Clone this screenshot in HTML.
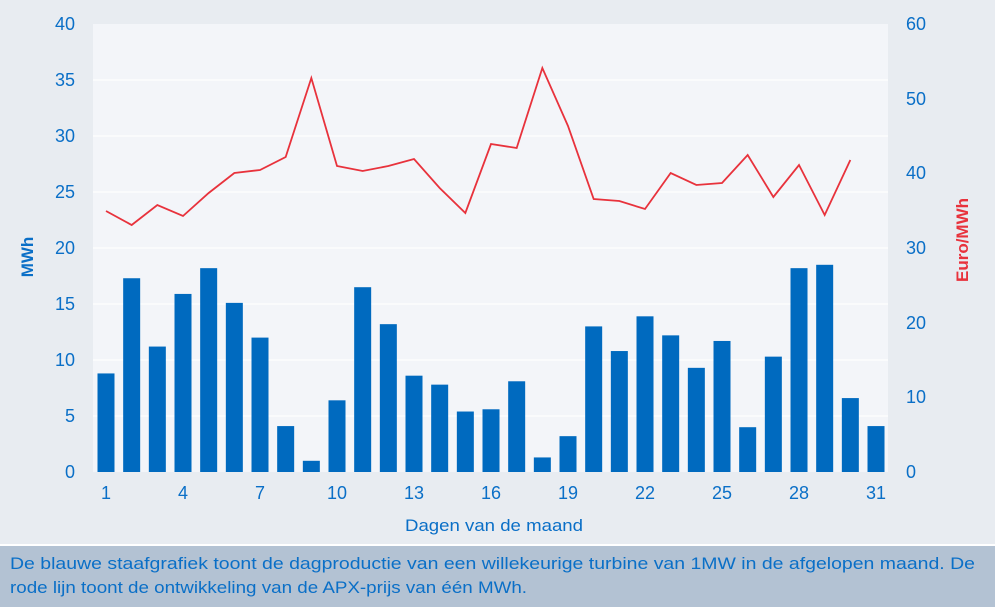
<!DOCTYPE html>
<html><head><meta charset="utf-8"><style>
body{margin:0;background:#e8ecf1;}
svg{display:block;font-family:"Liberation Sans",sans-serif;}
</style></head><body>
<svg width="995" height="607" viewBox="0 0 995 607">
<rect width="995" height="607" fill="#e8ecf1"/>
<rect x="93" y="24" width="795" height="448" fill="#f3f5f9"/>
<g stroke="#ffffff" stroke-width="1.2">
<line x1="93" x2="888" y1="80" y2="80"/><line x1="93" x2="888" y1="136" y2="136"/>
<line x1="93" x2="888" y1="192" y2="192"/><line x1="93" x2="888" y1="248" y2="248"/>
<line x1="93" x2="888" y1="304" y2="304"/><line x1="93" x2="888" y1="360" y2="360"/>
<line x1="93" x2="888" y1="416" y2="416"/>
</g>
<g id="bars" fill="#006abf"></g>
<polyline id="line" fill="none" stroke="#e8323c" stroke-width="1.8" points=""/>
<g fill="#0a6fc7" font-size="18" text-anchor="end">
<text x="75" y="30">40</text><text x="75" y="86">35</text><text x="75" y="142">30</text>
<text x="75" y="198">25</text><text x="75" y="254">20</text><text x="75" y="310">15</text>
<text x="75" y="366">10</text><text x="75" y="422">5</text><text x="75" y="478">0</text>
</g>
<g fill="#0a6fc7" font-size="18" text-anchor="start">
<text x="906" y="30">60</text><text x="906" y="105">50</text><text x="906" y="179">40</text>
<text x="906" y="254">30</text><text x="906" y="329">20</text><text x="906" y="403">10</text>
<text x="906" y="478">0</text>
</g>
<g fill="#0a6fc7" font-size="18" text-anchor="middle">
<text x="106" y="499">1</text><text x="183" y="499">4</text><text x="260" y="499">7</text>
<text x="337" y="499">10</text><text x="414" y="499">13</text><text x="491" y="499">16</text>
<text x="568" y="499">19</text><text x="645" y="499">22</text><text x="722" y="499">25</text>
<text x="799" y="499">28</text><text x="876" y="499">31</text>
</g>
<text x="405" y="531" fill="#0a6fc7" font-size="17" textLength="178" lengthAdjust="spacingAndGlyphs">Dagen van de maand</text>
<text transform="translate(33,257) rotate(-90)" fill="#0a6fc7" font-size="17" font-weight="bold" text-anchor="middle">MWh</text>
<text transform="translate(968,240) rotate(-90)" fill="#e8323c" font-size="17" font-weight="bold" text-anchor="middle">Euro/MWh</text>
<rect x="0" y="544" width="995" height="2" fill="#ffffff"/>
<rect x="0" y="546" width="995" height="61" fill="#b3c2d3"/>
<g fill="#0a6fc7" font-size="17">
<text x="10" y="569" textLength="965" lengthAdjust="spacingAndGlyphs">De blauwe staafgrafiek toont de dagproductie van een willekeurige turbine van 1MW in de afgelopen maand. De</text>
<text x="10" y="593" textLength="517" lengthAdjust="spacingAndGlyphs">rode lijn toont de ontwikkeling van de APX-prijs van één MWh.</text>
</g>
</svg>
<script>
var v=[8.8,17.3,11.2,15.9,18.2,15.1,12.0,4.1,1.0,6.4,16.5,13.2,8.6,7.8,5.4,5.6,8.1,1.3,3.2,13.0,10.8,13.9,12.2,9.3,11.7,4.0,10.3,18.2,18.5,6.6,4.1];
var ly=[211,225,205,216,193,173,170,157,78,166,171,166,159,188,213,144,148,68,126,199,201,209,173,185,183,155,197,165,215,160];
var g=document.getElementById('bars'),s='',p=[];
for(var i=0;i<31;i++){var cx=106+i*25.667,h=v[i]*11.2;
s+='<rect x="'+(cx-8.5)+'" y="'+(472-h)+'" width="17" height="'+h+'"/>';
if(i<30)p.push(cx+','+ly[i]);}
g.innerHTML=s;document.getElementById('line').setAttribute('points',p.join(' '));
</script>
</body></html>
